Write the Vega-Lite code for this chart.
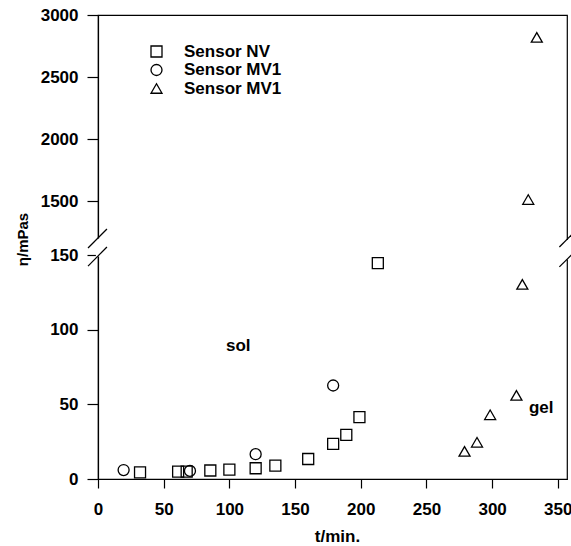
{
  "$schema": "https://vega.github.io/schema/vega-lite/v6.json",
  "autosize": "none",
  "width": 469,
  "height": 464,
  "padding": {"left": 98, "top": 15, "right": 4, "bottom": 67},
  "background": "white",
  "config": {
    "font": "Liberation Sans",
    "view": {"stroke": "black", "strokeWidth": 1.2},
    "axis": {
      "grid": false,
      "domainColor": "black",
      "domainWidth": 1.2,
      "tickColor": "black",
      "tickWidth": 1.2,
      "labelColor": "black",
      "labelFont": "Liberation Sans",
      "labelFontSize": 17,
      "labelFontWeight": "bold",
      "titleColor": "black",
      "titleFont": "Liberation Sans",
      "titleFontWeight": "bold",
      "labelFlush": false,
      "labelOverlap": false
    }
  },
  "encoding": {
    "x": {
      "field": "t",
      "type": "quantitative",
      "scale": {"domain": [0, 357], "nice": false, "zero": false},
      "axis": {
        "values": [0, 50, 100, 150, 200, 250, 300, 350],
        "format": "d",
        "tickSize": 9,
        "labelPadding": 13,
        "title": "t/min.",
        "titleFontSize": 17,
        "titleX": 239,
        "titleY": 62,
        "titleBaseline": "alphabetic",
        "titleAlign": "center"
      }
    },
    "y": {
      "field": "eta",
      "type": "quantitative",
      "scale": {"domain": [0, 150, 1500, 3000], "range": [464, 240, 186, 0], "nice": false, "zero": false},
      "axis": {
        "values": [0, 50, 100, 150, 1500, 2000, 2500, 3000],
        "format": "d",
        "tickSize": 11,
        "labelPadding": 9,
        "title": "η/mPas",
        "titleFontSize": 15,
        "titleX": -71,
        "titleY": 224,
        "titleAngle": -90,
        "titleBaseline": "alphabetic",
        "titleAlign": "center"
      }
    }
  },
  "layer": [
    {
      "data": {"values": [
        {"t": -1.6, "t2": 1.6, "eta": 149, "eta2": 562},
        {"t": 355.4, "t2": 358.6, "eta": 147, "eta2": 525}
      ]},
      "mark": {"type": "rect", "color": "white", "opacity": 1},
      "encoding": {"x2": {"field": "t2"}, "y2": {"field": "eta2"}}
    },
    {
      "data": {"values": [
        {"t": -7.6, "t2": 6.8, "eta": 142.6, "eta2": 350},
        {"t": -7.6, "t2": 6.8, "eta": 325, "eta2": 800},
        {"t": 351.2, "t2": 361.8, "eta": 142, "eta2": 200},
        {"t": 351.2, "t2": 361.8, "eta": 350, "eta2": 700}
      ]},
      "mark": {"type": "rule", "color": "black", "strokeWidth": 1.2},
      "encoding": {"x2": {"field": "t2"}, "y2": {"field": "eta2"}}
    },
    {
      "data": {"values": [
        {"sensor": "NV", "t": 32, "eta": 4.5},
        {"sensor": "NV", "t": 61, "eta": 5},
        {"sensor": "NV", "t": 67.5, "eta": 5},
        {"sensor": "NV", "t": 85.5, "eta": 5.7},
        {"sensor": "NV", "t": 100, "eta": 6.3},
        {"sensor": "NV", "t": 120, "eta": 7.2},
        {"sensor": "NV", "t": 135, "eta": 8.9},
        {"sensor": "NV", "t": 160, "eta": 13.4},
        {"sensor": "NV", "t": 179, "eta": 23.5},
        {"sensor": "NV", "t": 189, "eta": 29.5},
        {"sensor": "NV", "t": 199, "eta": 41.5},
        {"sensor": "NV", "t": 213, "eta": 144.5},
        {"sensor": "MV1a", "t": 19.5, "eta": 6},
        {"sensor": "MV1a", "t": 70, "eta": 5.4},
        {"sensor": "MV1a", "t": 120, "eta": 16.6},
        {"sensor": "MV1a", "t": 179, "eta": 62.6},
        {"sensor": "MV1b", "t": 279, "eta": 18.5},
        {"sensor": "MV1b", "t": 288.5, "eta": 24.6},
        {"sensor": "MV1b", "t": 298.5, "eta": 43},
        {"sensor": "MV1b", "t": 318.5, "eta": 56},
        {"sensor": "MV1b", "t": 323, "eta": 130.3},
        {"sensor": "MV1b", "t": 327.5, "eta": 1512},
        {"sensor": "MV1b", "t": 334, "eta": 2820}
      ]},
      "mark": {"type": "point", "filled": false, "color": "black", "opacity": 1, "strokeWidth": 1.3, "size": 121},
      "encoding": {
        "shape": {
          "field": "sensor",
          "type": "nominal",
          "scale": {"domain": ["NV", "MV1a", "MV1b"], "range": ["square", "circle", "triangle-up"]},
          "legend": {
            "orient": "none",
            "legendX": 50,
            "legendY": 28,
            "title": null,
            "padding": 0,
            "labelExpr": "datum.label == 'NV' ? 'Sensor NV' : 'Sensor MV1'",
            "labelFont": "Liberation Sans",
            "labelFontSize": 17,
            "labelFontWeight": "bold",
            "labelColor": "black",
            "labelOffset": 19,
            "rowPadding": 0.5,
            "symbolSize": 121,
            "symbolStrokeWidth": 1.3,
            "symbolStrokeColor": "black",
            "symbolFillColor": "transparent",
            "symbolOpacity": 1
          }
        }
      }
    },
    {
      "data": {"values": [
        {"label": "sol", "t": 106.8, "eta": 85.4},
        {"label": "gel", "t": 337.4, "eta": 44}
      ]},
      "mark": {"type": "text", "font": "Liberation Sans", "fontSize": 17, "fontWeight": "bold", "color": "black", "align": "center", "baseline": "alphabetic"},
      "encoding": {"text": {"field": "label"}}
    }
  ]
}
